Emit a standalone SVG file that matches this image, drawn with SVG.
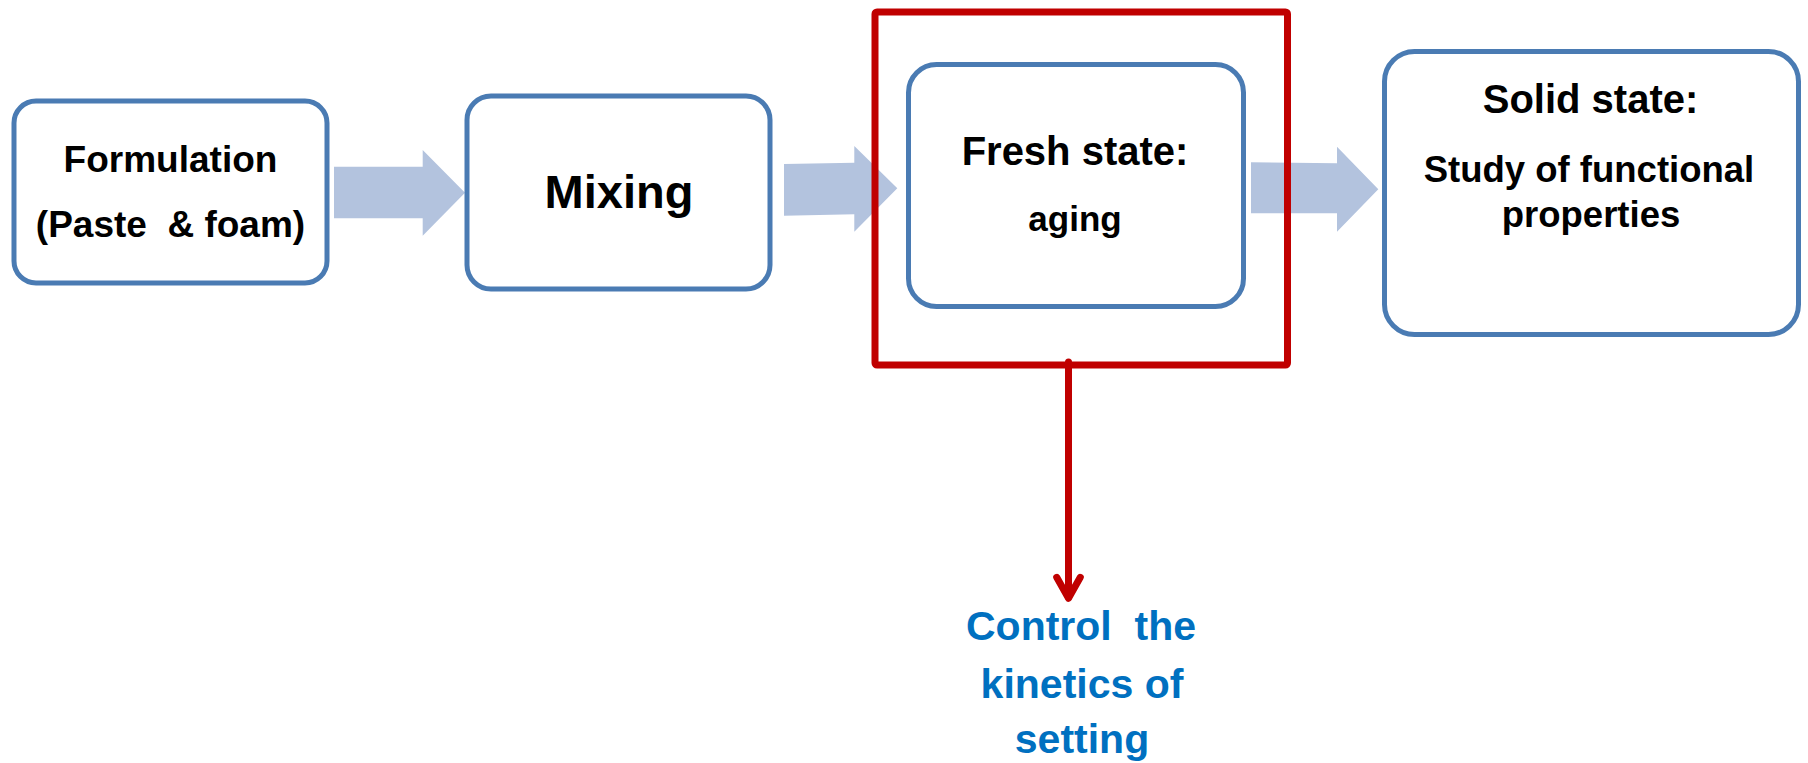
<svg xmlns="http://www.w3.org/2000/svg" width="1808" height="763" viewBox="0 0 1808 763">
<style>
.box{fill:#ffffff;stroke:#4A7BB3;stroke-width:5}
.flow{fill:#B3C3DE}
.t{font-family:"Liberation Sans",Arial,sans-serif;font-weight:bold;fill:#000000;text-anchor:middle;white-space:pre}
.blue{fill:#0070C0}
.red{fill:none;stroke:#C00000;stroke-width:7;stroke-linecap:round;stroke-linejoin:round}
</style>
<rect width="1808" height="763" fill="#ffffff"/>
<g id="connectors">
<polygon class="flow" points="334,166.7 422.7,166.7 422.7,150 465,192.7 422.7,235.7 422.7,218.3 334,218.3"/>
<polygon class="flow" points="784,164 854.3,162.7 854.3,146 897.3,188.3 854.3,231.7 854.3,214.3 784,215.7"/>
<polygon class="flow" points="1251,162.3 1337,163.3 1337,146.7 1378.3,189.3 1337,231.7 1337,213.3 1251,213.3"/>
</g>
<g id="formulation">
<rect class="box" x="14" y="101" width="313" height="182" rx="22"/>
<text class="t" x="170.5" y="172" font-size="37">Formulation</text>
<text class="t" x="170.5" y="237" font-size="37">(Paste  &amp; foam)</text>
</g>
<g id="mixing">
<rect class="box" x="467" y="96" width="303" height="193" rx="24"/>
<text class="t" x="619" y="208" font-size="47">Mixing</text>
</g>
<g id="fresh">
<rect class="box" x="908.5" y="64.5" width="335" height="242" rx="28"/>
<text class="t" x="1075" y="165" font-size="40">Fresh state:</text>
<text class="t" x="1075" y="231" font-size="35">aging</text>
</g>
<g id="solid">
<rect class="box" x="1384.5" y="51.5" width="414" height="283" rx="30"/>
<text class="t" x="1590.5" y="113" font-size="40">Solid state:</text>
<text class="t" x="1589" y="182" font-size="36.5">Study of functional</text>
<text class="t" x="1591" y="227" font-size="36.5">properties</text>
</g>
<g id="highlight">
<rect class="red" x="875" y="12" width="412.5" height="353" rx="2"/>
</g>
<g id="control-arrow">
<line class="red" x1="1068.5" y1="362" x2="1068.5" y2="597" stroke-width="6.5"/>
<polyline class="red" points="1056.7,577.3 1068.5,598.3 1080.3,577.3" stroke-width="6"/>
</g>
<g id="control">
<text class="t blue" x="1081" y="640" font-size="41">Control  the</text>
<text class="t blue" x="1082" y="698" font-size="41">kinetics of</text>
<text class="t blue" x="1082" y="753" font-size="41">setting</text>
</g>
</svg>
